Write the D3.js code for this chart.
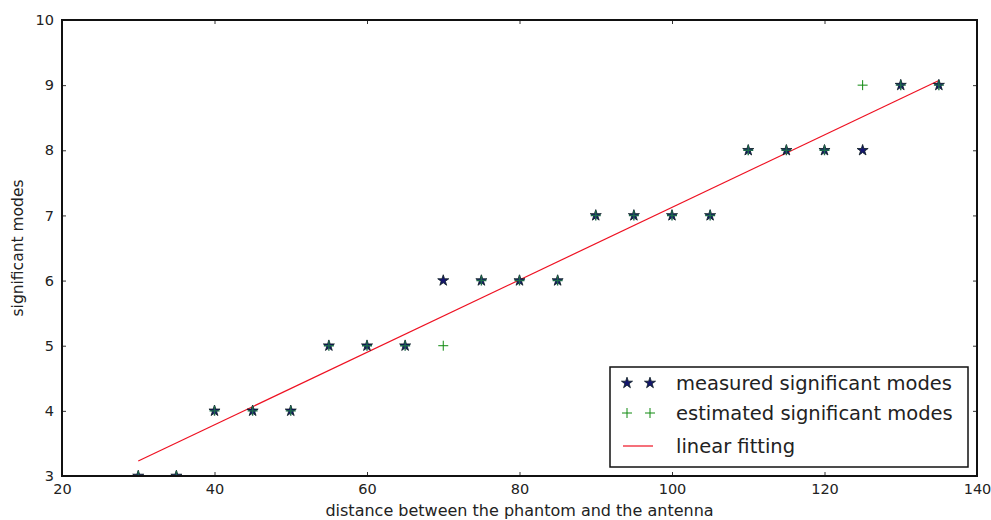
<!DOCTYPE html>
<html>
<head>
<meta charset="utf-8">
<script src="https://cdn.jsdelivr.net/npm/d3@7"></script>
<style>
  html, body { margin: 0; padding: 0; background: #fff; }
  svg { display: block; font-family: "DejaVu Sans", sans-serif; }
</style>
</head>
<body>
<svg id="chart" width="991" height="520"></svg>
<script>
// Distance between phantom and antenna
const distances = [30, 35, 40, 45, 50, 55, 60, 65, 70, 75, 80, 85, 90, 95, 100, 105, 110, 115, 120, 125, 130, 135];
// Number of significant modes
const measuredModes  = [3, 3, 4, 4, 4, 5, 5, 5, 6, 6, 6, 6, 7, 7, 7, 7, 8, 8, 8, 8, 9, 9];
const estimatedModes = [3, 3, 4, 4, 4, 5, 5, 5, 5, 6, 6, 6, 7, 7, 7, 7, 8, 8, 8, 9, 9, 9];
// Linear fit end points
const fitX = [30, 135];
const fitY = [3.23, 9.07];
const xTicks = [20, 40, 60, 80, 100, 120, 140];
const yTicks = [3, 4, 5, 6, 7, 8, 9, 10];
const legendLabels = ["measured significant modes", "estimated significant modes", "linear fitting"];

const svg = d3.select("#chart");
const m = { left: 62, right: 977, top: 20, bottom: 476 };

const x = d3.scaleLinear().domain([20, 140]).range([m.left, m.right]);
const y = d3.scaleLinear().domain([3, 10]).range([m.bottom, m.top]);

const tickLen = 4;
const tickFont = 14.5;

// Axes with inward ticks on all four sides
const gx = svg.append("g").attr("transform", `translate(0,${m.bottom})`)
  .call(d3.axisBottom(x).tickValues(xTicks).tickSize(-tickLen).tickPadding(8).tickFormat(d3.format("d")));
const gxTop = svg.append("g").attr("transform", `translate(0,${m.top})`)
  .call(d3.axisTop(x).tickValues(xTicks).tickSize(-tickLen).tickFormat(""));
const gy = svg.append("g").attr("transform", `translate(${m.left},0)`)
  .call(d3.axisLeft(y).tickValues(yTicks).tickSize(-tickLen).tickPadding(8).tickFormat(d3.format("d")));
const gyR = svg.append("g").attr("transform", `translate(${m.right},0)`)
  .call(d3.axisRight(y).tickValues(yTicks).tickSize(-tickLen).tickFormat(""));

[gx, gxTop, gy, gyR].forEach(g => {
  g.select(".domain").remove();
  g.selectAll(".tick line").attr("stroke", "#333").attr("stroke-width", 1);
  g.selectAll(".tick text").attr("fill", "#222").attr("font-size", tickFont)
    .attr("font-family", "DejaVu Sans, sans-serif");
});

// Clip region for data marks
svg.append("clipPath").attr("id", "plotclip").append("rect")
  .attr("x", m.left - 8).attr("y", m.top - 8)
  .attr("width", m.right - m.left + 16).attr("height", m.bottom - m.top + 8);

const plot = svg.append("g");

// Linear fit
plot.append("path")
  .datum(fitX.map((d, i) => [d, fitY[i]]))
  .attr("d", d3.line().x(d => x(d[0])).y(d => y(d[1])))
  .attr("fill", "none").attr("stroke", "#ee1122").attr("stroke-width", 1.2);

const star = d3.symbol().type(d3.symbolStar).size(38);
const plusSize = 5;
const starFill = "#14166e";
const plusColor = "#108a10";

// Measured modes (stars)
plot.append("g").attr("clip-path", "url(#plotclip)")
  .selectAll("path").data(distances).join("path")
  .attr("transform", (d, i) => `translate(${x(d)},${y(measuredModes[i])})`)
  .attr("d", star).attr("fill", starFill).attr("stroke", "#0a1a20").attr("stroke-width", 0.8);

// Estimated modes (plus)
plot.append("g").attr("clip-path", "url(#plotclip)")
  .selectAll("path").data(distances).join("path")
  .attr("d", (d, i) => {
    const cx = x(d), cy = y(estimatedModes[i]);
    return `M${cx - plusSize},${cy}H${cx + plusSize}M${cx},${cy - plusSize}V${cy + plusSize}`;
  })
  .attr("stroke", (d, i) => estimatedModes[i] === measuredModes[i] ? "#1d6a4a" : plusColor)
  .attr("stroke-width", (d, i) => estimatedModes[i] === measuredModes[i] ? 1.4 : 1);

// Frame
svg.append("rect")
  .attr("x", m.left).attr("y", m.top)
  .attr("width", m.right - m.left).attr("height", m.bottom - m.top)
  .attr("fill", "none").attr("stroke", "#111").attr("stroke-width", 2);

// Axis labels
svg.append("text")
  .attr("x", (m.left + m.right) / 2).attr("y", 516)
  .attr("text-anchor", "middle").attr("font-size", 16).attr("fill", "#222")
  .text("distance between the phantom and the antenna");
svg.append("text")
  .attr("transform", `translate(23,${(m.top + m.bottom) / 2}) rotate(-90)`)
  .attr("text-anchor", "middle").attr("font-size", 15.5).attr("fill", "#222")
  .text("significant modes");

// Legend
const lg = svg.append("g");
lg.append("rect").attr("x", 610).attr("y", 367).attr("width", 358).attr("height", 100)
  .attr("fill", "#fff").attr("stroke", "#111").attr("stroke-width", 1.5);
const rows = [383, 413, 446];
[627, 650].forEach(px => {
  lg.append("path").attr("transform", `translate(${px},${rows[0]})`)
    .attr("d", star).attr("fill", starFill).attr("stroke", "#0a1a20").attr("stroke-width", 0.8);
  lg.append("path")
    .attr("d", `M${px - plusSize},${rows[1]}H${px + plusSize}M${px},${rows[1] - plusSize}V${rows[1] + plusSize}`)
    .attr("stroke", plusColor).attr("stroke-width", 1);
});
lg.append("line").attr("x1", 623).attr("x2", 653).attr("y1", rows[2]).attr("y2", rows[2])
  .attr("stroke", "#ee1122").attr("stroke-width", 1.2);
legendLabels.forEach((t, i) => {
  lg.append("text").attr("x", 676).attr("y", rows[i]).attr("dy", "0.35em")
    .attr("font-size", 19.5).attr("fill", "#222").text(t);
});
</script>
</body>
</html>
